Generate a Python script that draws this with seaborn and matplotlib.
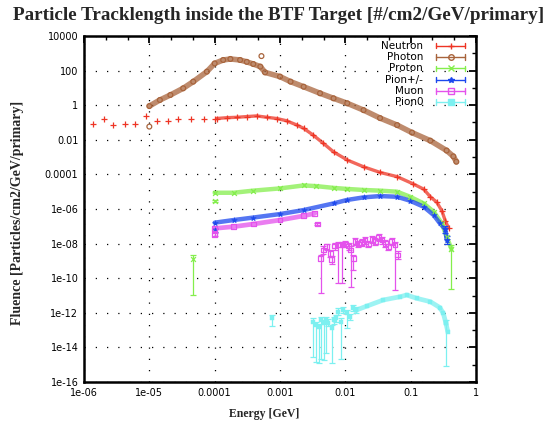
import matplotlib
matplotlib.use("Agg")
import matplotlib.pyplot as plt
import seaborn as sns
from matplotlib.ticker import FixedLocator, NullFormatter

# ---------------- data ----------------
neutron_sparse_E = [1.35e-6, 2.0e-6, 2.8e-6, 4.2e-6, 6.0e-6, 8.9e-6, 1.3e-5, 1.9e-5, 2.7e-5, 4.3e-5, 6.9e-5, 1.0e-4]
neutron_sparse_F = [0.079, 0.15, 0.072, 0.081, 0.079, 0.24, 0.12, 0.13, 0.15, 0.15, 0.15, 0.17]
neutron_E = [1.07e-4, 1.55e-4, 2.2e-4, 3.1e-4, 4.4e-4, 6.3e-4, 8.9e-4, 1.26e-3, 1.8e-3, 2.3e-3, 3.2e-3,
             4.6e-3, 6.6e-3, 0.0107, 0.019, 0.034, 0.062, 0.11, 0.158, 0.2, 0.25, 0.30, 0.34, 0.38]
neutron_F = [0.17, 0.19, 0.20, 0.22, 0.24, 0.20, 0.17, 0.126, 0.072, 0.046, 0.019,
             6.3e-3, 2.0e-3, 6.8e-4, 2.75e-4, 1.3e-4, 7.4e-5, 2.8e-5, 1.4e-5, 5.1e-6, 2.5e-6, 7.9e-7, 2.0e-7, 7.9e-8]

photon_E = [1.0e-5, 1.45e-5, 2.1e-5, 3.3e-5, 4.7e-5, 7.6e-5, 1.0e-4, 1.35e-4, 1.74e-4, 2.45e-4, 3.1e-4,
            3.9e-4, 5.0e-4, 5.9e-4, 1.0e-3, 1.45e-3, 2.3e-3, 4.1e-3, 6.6e-3, 0.0107, 0.019, 0.034,
            0.062, 0.105, 0.2, 0.355, 0.45, 0.5]
photon_F = [0.89, 2.0, 3.9, 9.5, 23, 87, 260, 410, 470, 410, 320,
            240, 170, 79, 45, 23, 11.7, 4.9, 2.5, 1.29, 0.52, 0.18,
            0.071, 0.026, 8.9e-3, 2.4e-3, 1.1e-3, 5.4e-4]
photon_out_E = [1.0e-5, 5.2e-4]
photon_out_F = [0.058, 690]

proton_E = [1.0e-4, 1.95e-4, 3.9e-4, 1.0e-3, 2.3e-3, 3.6e-3, 6.6e-3, 0.0105, 0.019, 0.034, 0.062,
            0.098, 0.158, 0.224, 0.30, 0.355, 0.42]
proton_F = [8.7e-6, 8.7e-6, 1.15e-5, 1.55e-5, 2.3e-5, 2.1e-5, 1.66e-5, 1.45e-5, 1.26e-5, 1.15e-5, 1.0e-5,
            5.1e-6, 2.1e-6, 7.1e-7, 1.48e-7, 2.5e-8, 5.0e-9]
proton_pts_E = [4.6e-5, 1.0e-4, 0.42]
proton_pts_F = [1.23e-9, 2.9e-6, 5.0e-9]
proton_pts_lo = [1.07e-11, 2.5e-6, 2.5e-11]
proton_pts_hi = [2.2e-9, 3.3e-6, 8.0e-9]

pion_E = [1.0e-4, 1.95e-4, 3.9e-4, 1.0e-3, 2.3e-3, 6.6e-3, 0.0105, 0.019, 0.034, 0.062, 0.098,
          0.158, 0.224, 0.28, 0.34, 0.355]
pion_F = [1.62e-7, 2.3e-7, 3.2e-7, 5.1e-7, 8.7e-7, 2.1e-6, 3.3e-6, 4.7e-6, 5.6e-6, 5.1e-6, 3.0e-6,
          1.35e-6, 4.5e-7, 1.48e-7, 6.8e-8, 1.62e-8]
pion_pts_E = [1.0e-4, 0.34, 0.355]
pion_pts_F = [6.2e-8, 6.8e-8, 1.62e-8]
pion_pts_lo = [4.5e-8, 4.0e-8, 9.0e-9]
pion_pts_hi = [8.0e-8, 1.0e-7, 2.6e-8]

muon_E = [1.0e-4, 1.95e-4, 3.9e-4, 1.0e-3, 2.3e-3, 3.4e-3]
muon_F = [7.6e-8, 9.5e-8, 1.35e-7, 2.3e-7, 4.0e-7, 5.6e-7]
muon_pts_E = [1.0e-4, 3.7e-3, 4.2e-3, 4.6e-3, 5.2e-3, 5.9e-3, 6.2e-3, 6.9e-3, 7.8e-3, 8.9e-3, 0.01, 0.0112,
              0.012, 0.0132, 0.0141, 0.0158, 0.0178, 0.020, 0.0224, 0.0257, 0.0288, 0.0324, 0.0363,
              0.0407, 0.0457, 0.0513, 0.0575, 0.063]
muon_pts_F = [3.2e-8, 1.35e-7, 1.4e-9, 4.3e-9, 6.6e-9, 2.75e-9, 1.23e-9, 7.2e-9, 8.3e-9, 8.3e-9, 9.5e-9, 7.2e-9,
              4.3e-9, 1.4e-9, 1.3e-8, 9.5e-9, 1.12e-8, 1.62e-8, 9.5e-9, 1.78e-8, 1.3e-8, 2.3e-8, 1.62e-8,
              1.05e-8, 6.6e-9, 1.3e-8, 8.3e-9, 2.2e-9]
muon_pts_lo = [2.6e-8, 1.2e-7, 1.35e-11, 2.6e-9, 4.2e-9, 1.6e-9, 7.0e-10, 4.5e-9, 5.0e-11, 5.5e-11, 6.0e-9, 4.5e-9,
               3.2e-11, 3.0e-10, 8.0e-9, 6.0e-9, 7.0e-9, 1.0e-8, 6.0e-9, 1.1e-8, 8.0e-9, 1.45e-8, 1.0e-8,
               6.5e-9, 4.0e-9, 8.0e-9, 2.1e-11, 1.3e-9]
muon_pts_hi = [3.9e-8, 1.5e-7, 2.3e-9, 6.8e-9, 1.0e-8, 4.5e-9, 2.0e-9, 1.1e-8, 1.3e-8, 1.3e-8, 1.5e-8, 1.1e-8,
               7.0e-9, 2.3e-9, 2.0e-8, 1.5e-8, 1.8e-8, 2.5e-8, 1.5e-8, 2.8e-8, 2.0e-8, 3.5e-8, 2.5e-8,
               1.6e-8, 1.0e-8, 2.0e-8, 1.3e-8, 3.5e-9]

pion0_pts_E = [7.6e-4, 3.2e-3, 3.5e-3, 3.9e-3, 4.3e-3, 4.7e-3, 5.1e-3, 5.5e-3, 6.2e-3, 6.6e-3, 7.2e-3, 7.8e-3,
               8.5e-3, 9.3e-3, 0.0105, 0.0117, 0.0132, 0.0148, 0.347]
pion0_pts_F = [4.8e-13, 3.1e-13, 1.95e-13, 1.58e-13, 3.8e-13, 2.45e-13, 3.8e-13, 2.7e-13, 1.26e-13, 3.8e-13,
               4.8e-13, 1.15e-12, 3.1e-13, 1.45e-12, 9.3e-13, 5.9e-13, 1.82e-12, 1.45e-12, 2.45e-13]
pion0_pts_lo = [1.74e-13, 2.9e-15, 1.48e-15, 1.2e-15, 2.0e-15, 1.86e-15, 4.6e-15, 1.7e-13, 1.3e-15, 2.4e-13,
                3.0e-13, 7.5e-13, 2.0e-15, 9.5e-13, 1.38e-13, 3.8e-13, 1.2e-12, 9.5e-13, 7.9e-16]
pion0_pts_hi = [7.4e-13, 4.8e-13, 3.0e-13, 2.4e-13, 5.8e-13, 3.8e-13, 5.8e-13, 4.2e-13, 2.0e-13, 5.8e-13,
                7.4e-13, 1.8e-12, 4.8e-13, 2.2e-12, 1.4e-12, 9.0e-13, 2.8e-12, 2.2e-12, 3.8e-13]
pion0_E = [0.0148, 0.0214, 0.038, 0.069, 0.087, 0.123, 0.20, 0.28, 0.316, 0.347, 0.37]
pion0_F = [1.45e-12, 2.45e-12, 5.5e-12, 8.5e-12, 1.07e-11, 6.9e-12, 4.4e-12, 2.0e-12, 9.3e-13, 2.45e-13, 8.1e-14]

x_ticks = [1e-6, 1e-5, 1e-4, 1e-3, 1e-2, 1e-1, 1]
x_labels = ["1e-06", "1e-05", "0.0001", "0.001", "0.01", "0.1", "1"]
x_minor = [2.15e-6, 4.64e-6, 2.15e-5, 4.64e-5, 2.15e-4, 4.64e-4, 2.15e-3, 4.64e-3,
           2.15e-2, 4.64e-2, 2.15e-1, 4.64e-1]
y_ticks = [1e4, 1e2, 1, 1e-2, 1e-4, 1e-6, 1e-8, 1e-10, 1e-12, 1e-14, 1e-16]
y_labels = ["10000", "100", "1", "0.01", "0.0001", "1e-06", "1e-08", "1e-10", "1e-12", "1e-14", "1e-16"]
y_minor = [1e3, 10, 0.1, 1e-3, 1e-5, 1e-7, 1e-9, 1e-11, 1e-13, 1e-15]

names = ["Neutron", "Photon", "Proton", "Pion+/-", "Muon", "Pion0"]
colors = ["#ee3424", "#a8643c", "#84ee4c", "#1c48ee", "#e452ec", "#7cf0f0"]
markers = ["+", "o", "x", "*", "s", "s"]
filled = [False, False, False, True, False, True]

# ---------------- figure ----------------
sns.set_style("white")
plt.rcParams["font.family"] = ["DejaVu Sans"]

fig = plt.figure(figsize=(5.57, 4.21), dpi=100)
ax = fig.add_axes([84 / 557, 1 - 382 / 421, 392 / 557, 346 / 421])
ax.set_xscale("log")
ax.set_yscale("log")


def band(E, F, c, lw=3.2):
    sns.lineplot(x=E, y=F, ax=ax, color=c, lw=lw, alpha=0.75, sort=False,
                 estimator=None, legend=False)


def pts(E, F, c, marker, fill, s=22, lw=0.9):
    if fill:
        sns.scatterplot(x=E, y=F, ax=ax, color=c, marker=marker, s=s, edgecolor=c,
                        linewidth=lw, legend=False, zorder=3)
    else:
        ax.scatter(E, F, marker=marker, s=s, linewidths=lw, zorder=3,
                   facecolors="none" if marker in ("o", "s") else c, edgecolors=c)


def bars(E, F, lo, hi, c):
    ax.errorbar(E, F, yerr=[[f - l for f, l in zip(F, lo)], [h - f for f, h in zip(F, hi)]],
                fmt="none", ecolor=c, elinewidth=0.9, capsize=2, capthick=0.9, zorder=2)


# Neutron
band(neutron_E, neutron_F, colors[0], lw=2.4)
pts(neutron_sparse_E, neutron_sparse_F, colors[0], "+", False, s=24)
pts(neutron_E, neutron_F, colors[0], "+", False, s=24)
# Photon
band(photon_E, photon_F, colors[1], lw=4.0)
pts(photon_E, photon_F, colors[1], "o", False, s=12)
pts(photon_out_E, photon_out_F, colors[1], "o", False, s=12)
# Proton
band(proton_E, proton_F, colors[2], lw=3.2)
pts(proton_E, proton_F, colors[2], "x", False, s=12)
bars(proton_pts_E, proton_pts_F, proton_pts_lo, proton_pts_hi, colors[2])
pts(proton_pts_E, proton_pts_F, colors[2], "x", False, s=12)
# Pion+/-
band(pion_E, pion_F, colors[3], lw=3.2)
pts(pion_E, pion_F, colors[3], "*", True, s=18, lw=0.3)
bars(pion_pts_E, pion_pts_F, pion_pts_lo, pion_pts_hi, colors[3])
pts(pion_pts_E, pion_pts_F, colors[3], "*", True, s=18, lw=0.3)
# Muon
band(muon_E, muon_F, colors[4], lw=3.4)
pts(muon_E, muon_F, colors[4], "s", False, s=12)
bars(muon_pts_E, muon_pts_F, muon_pts_lo, muon_pts_hi, colors[4])
pts(muon_pts_E, muon_pts_F, colors[4], "s", False, s=12)
# Pion0
band(pion0_E, pion0_F, colors[5], lw=3.4)
bars(pion0_pts_E, pion0_pts_F, pion0_pts_lo, pion0_pts_hi, colors[5])
pts(pion0_pts_E, pion0_pts_F, colors[5], "s", True, s=12, lw=0.3)
pts(pion0_E, pion0_F, colors[5], "s", True, s=12, lw=0.3)

# axes
ax.set_xlim(1e-6, 1)
ax.set_ylim(1e-16, 1e4)
ax.xaxis.set_major_locator(FixedLocator(x_ticks))
ax.set_xticklabels(x_labels)
ax.yaxis.set_major_locator(FixedLocator(y_ticks))
ax.set_yticklabels(y_labels)
ax.yaxis.set_minor_locator(FixedLocator(y_minor))
ax.xaxis.set_minor_locator(FixedLocator(x_minor))
ax.xaxis.set_minor_formatter(NullFormatter())
ax.yaxis.set_minor_formatter(NullFormatter())
ax.tick_params(which="both", direction="in", top=True, right=True, labelsize=7, colors="black")
ax.tick_params(which="major", length=5, width=1.3, pad=4)
ax.tick_params(which="minor", length=3, width=1.0)
ax.grid(True, which="major", color="black", linestyle=(0, (1, 8)), lw=0.9)
for sp in ax.spines.values():
    sp.set_linewidth(1.8)
    sp.set_color("black")

serif = ["Liberation Serif", "DejaVu Serif"]
fig.text(0.5, 0.962, "Particle Tracklength inside the BTF Target [#/cm2/GeV/primary]",
         ha="center", va="center", fontsize=13.8, fontweight="bold", family=serif)
ax.set_xlabel("Energy [GeV]", fontsize=8.5, fontweight="bold", family=serif)
ax.xaxis.set_label_coords(0.46, -0.075)
ax.set_ylabel("Fluence [Particles/cm2/GeV/primary]", fontsize=10, fontweight="bold", family=serif)
ax.yaxis.set_label_coords(-0.153, 0.49)

# key (gnuplot style: right-aligned text, sample line with end caps and a marker)
tr = ax.transAxes
x_text, x0, x1 = 0.865, 0.898, 0.972
row0, step = 0.972, 0.0327
for i, (n, c, m, f) in enumerate(zip(names, colors, markers, filled)):
    yy = row0 - i * step
    ax.text(x_text, yy, n, transform=tr, ha="right", va="center", fontsize=7.5, color="black")
    ax.plot([x0, x1], [yy, yy], transform=tr, color=c, lw=1.0, clip_on=False)
    ax.plot([x0, x0], [yy - 0.008, yy + 0.008], transform=tr, color=c, lw=1.0, clip_on=False)
    ax.plot([x1, x1], [yy - 0.008, yy + 0.008], transform=tr, color=c, lw=1.0, clip_on=False)
    ax.plot([(x0 + x1) / 2], [yy], transform=tr, color=c, marker=m, markersize=4.0,
            markerfacecolor=c if f else "none", markeredgecolor=c, mew=1.0, clip_on=False)

fig.savefig("out.png", dpi=100)
